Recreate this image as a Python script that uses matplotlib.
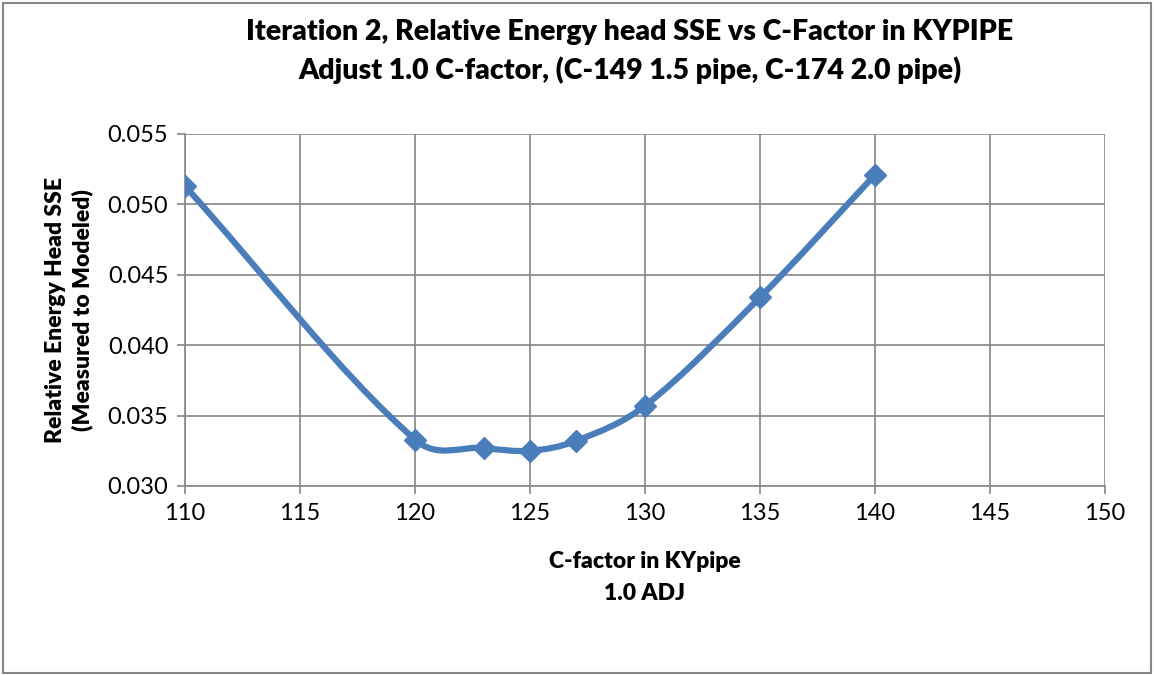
import matplotlib.pyplot as plt
from matplotlib.path import Path
from matplotlib.patches import PathPatch, Rectangle

# Data
c_factor = [110, 120, 123, 125, 127, 130, 135, 140]
sse = [0.0513, 0.0333, 0.0327, 0.0325, 0.0332, 0.0357, 0.0434, 0.0521]
x_ticks = [110, 115, 120, 125, 130, 135, 140, 145, 150]
y_ticks = [0.030, 0.035, 0.040, 0.045, 0.050, 0.055]

plt.rcParams['font.family'] = ['Lato', 'DejaVu Sans']
blue = '#4a7ebb'
grid_col = '#868686'

fig = plt.figure(figsize=(11.54, 6.75), dpi=100)
ax = fig.add_axes([0.1603, 0.28, 0.7972, 0.5215])

# smoothed line through the points (hermite tangents, bezier segments)
n = len(c_factor)
slopes = []
for i in range(n):
    a = max(i - 1, 0)
    b = min(i + 1, n - 1)
    slopes.append((sse[b] - sse[a]) / (c_factor[b] - c_factor[a]))
verts = [(c_factor[0], sse[0])]
codes = [Path.MOVETO]
for i in range(n - 1):
    dx = (c_factor[i + 1] - c_factor[i]) / 3
    c1 = (c_factor[i] + dx, sse[i] + slopes[i] * dx)
    c2 = (c_factor[i + 1] - dx, sse[i + 1] - slopes[i + 1] * dx)
    verts += [c1, c2, (c_factor[i + 1], sse[i + 1])]
    codes += [Path.CURVE4] * 3
ax.add_patch(PathPatch(Path(verts, codes), facecolor='none', edgecolor=blue,
                       lw=4.5, capstyle='round', joinstyle='round', zorder=3))
ax.plot(c_factor, sse, linestyle='none', marker='D', markersize=11,
        color=blue, zorder=4)

ax.set_xlim(110, 150)
ax.set_ylim(0.030, 0.055)
ax.set_xticks(x_ticks)
ax.set_yticks(y_ticks)
ax.set_yticklabels([f'{v:.3f}' for v in y_ticks])
ax.grid(True, color=grid_col, lw=1.2)
ax.set_axisbelow(True)
for s in ['top', 'right']:
    ax.spines[s].set_visible(False)
for s in ['left', 'bottom']:
    ax.spines[s].set_color(grid_col)
    ax.spines[s].set_linewidth(1.2)
ax.tick_params(direction='out', length=6, color=grid_col, width=1.2,
               labelsize=17, pad=6)

ax.set_xlabel('C-factor in KYpipe\n1.0 ADJ', fontsize=16.5, fontweight='heavy',
              labelpad=20, linespacing=1.65)
ax.set_ylabel('Relative Energy Head SSE\n(Measured to Modeled)', fontsize=16.5,
              fontweight='heavy', labelpad=10, linespacing=1.3)
fig.text(0.5455, 0.9237, 'Iteration 2, Relative Energy head SSE vs C-Factor in KYPIPE\n'
         'Adjust 1.0 C-factor, (C-149 1.5 pipe, C-174 2.0 pipe)',
         ha='center', va='center', fontsize=20.5, fontweight='heavy', linespacing=1.5)

fig.patches.append(Rectangle((0.003, 0.003), 0.994, 0.992, transform=fig.transFigure,
                             fill=False, edgecolor=grid_col, lw=1.5))

fig.savefig('out.png', dpi=100)
